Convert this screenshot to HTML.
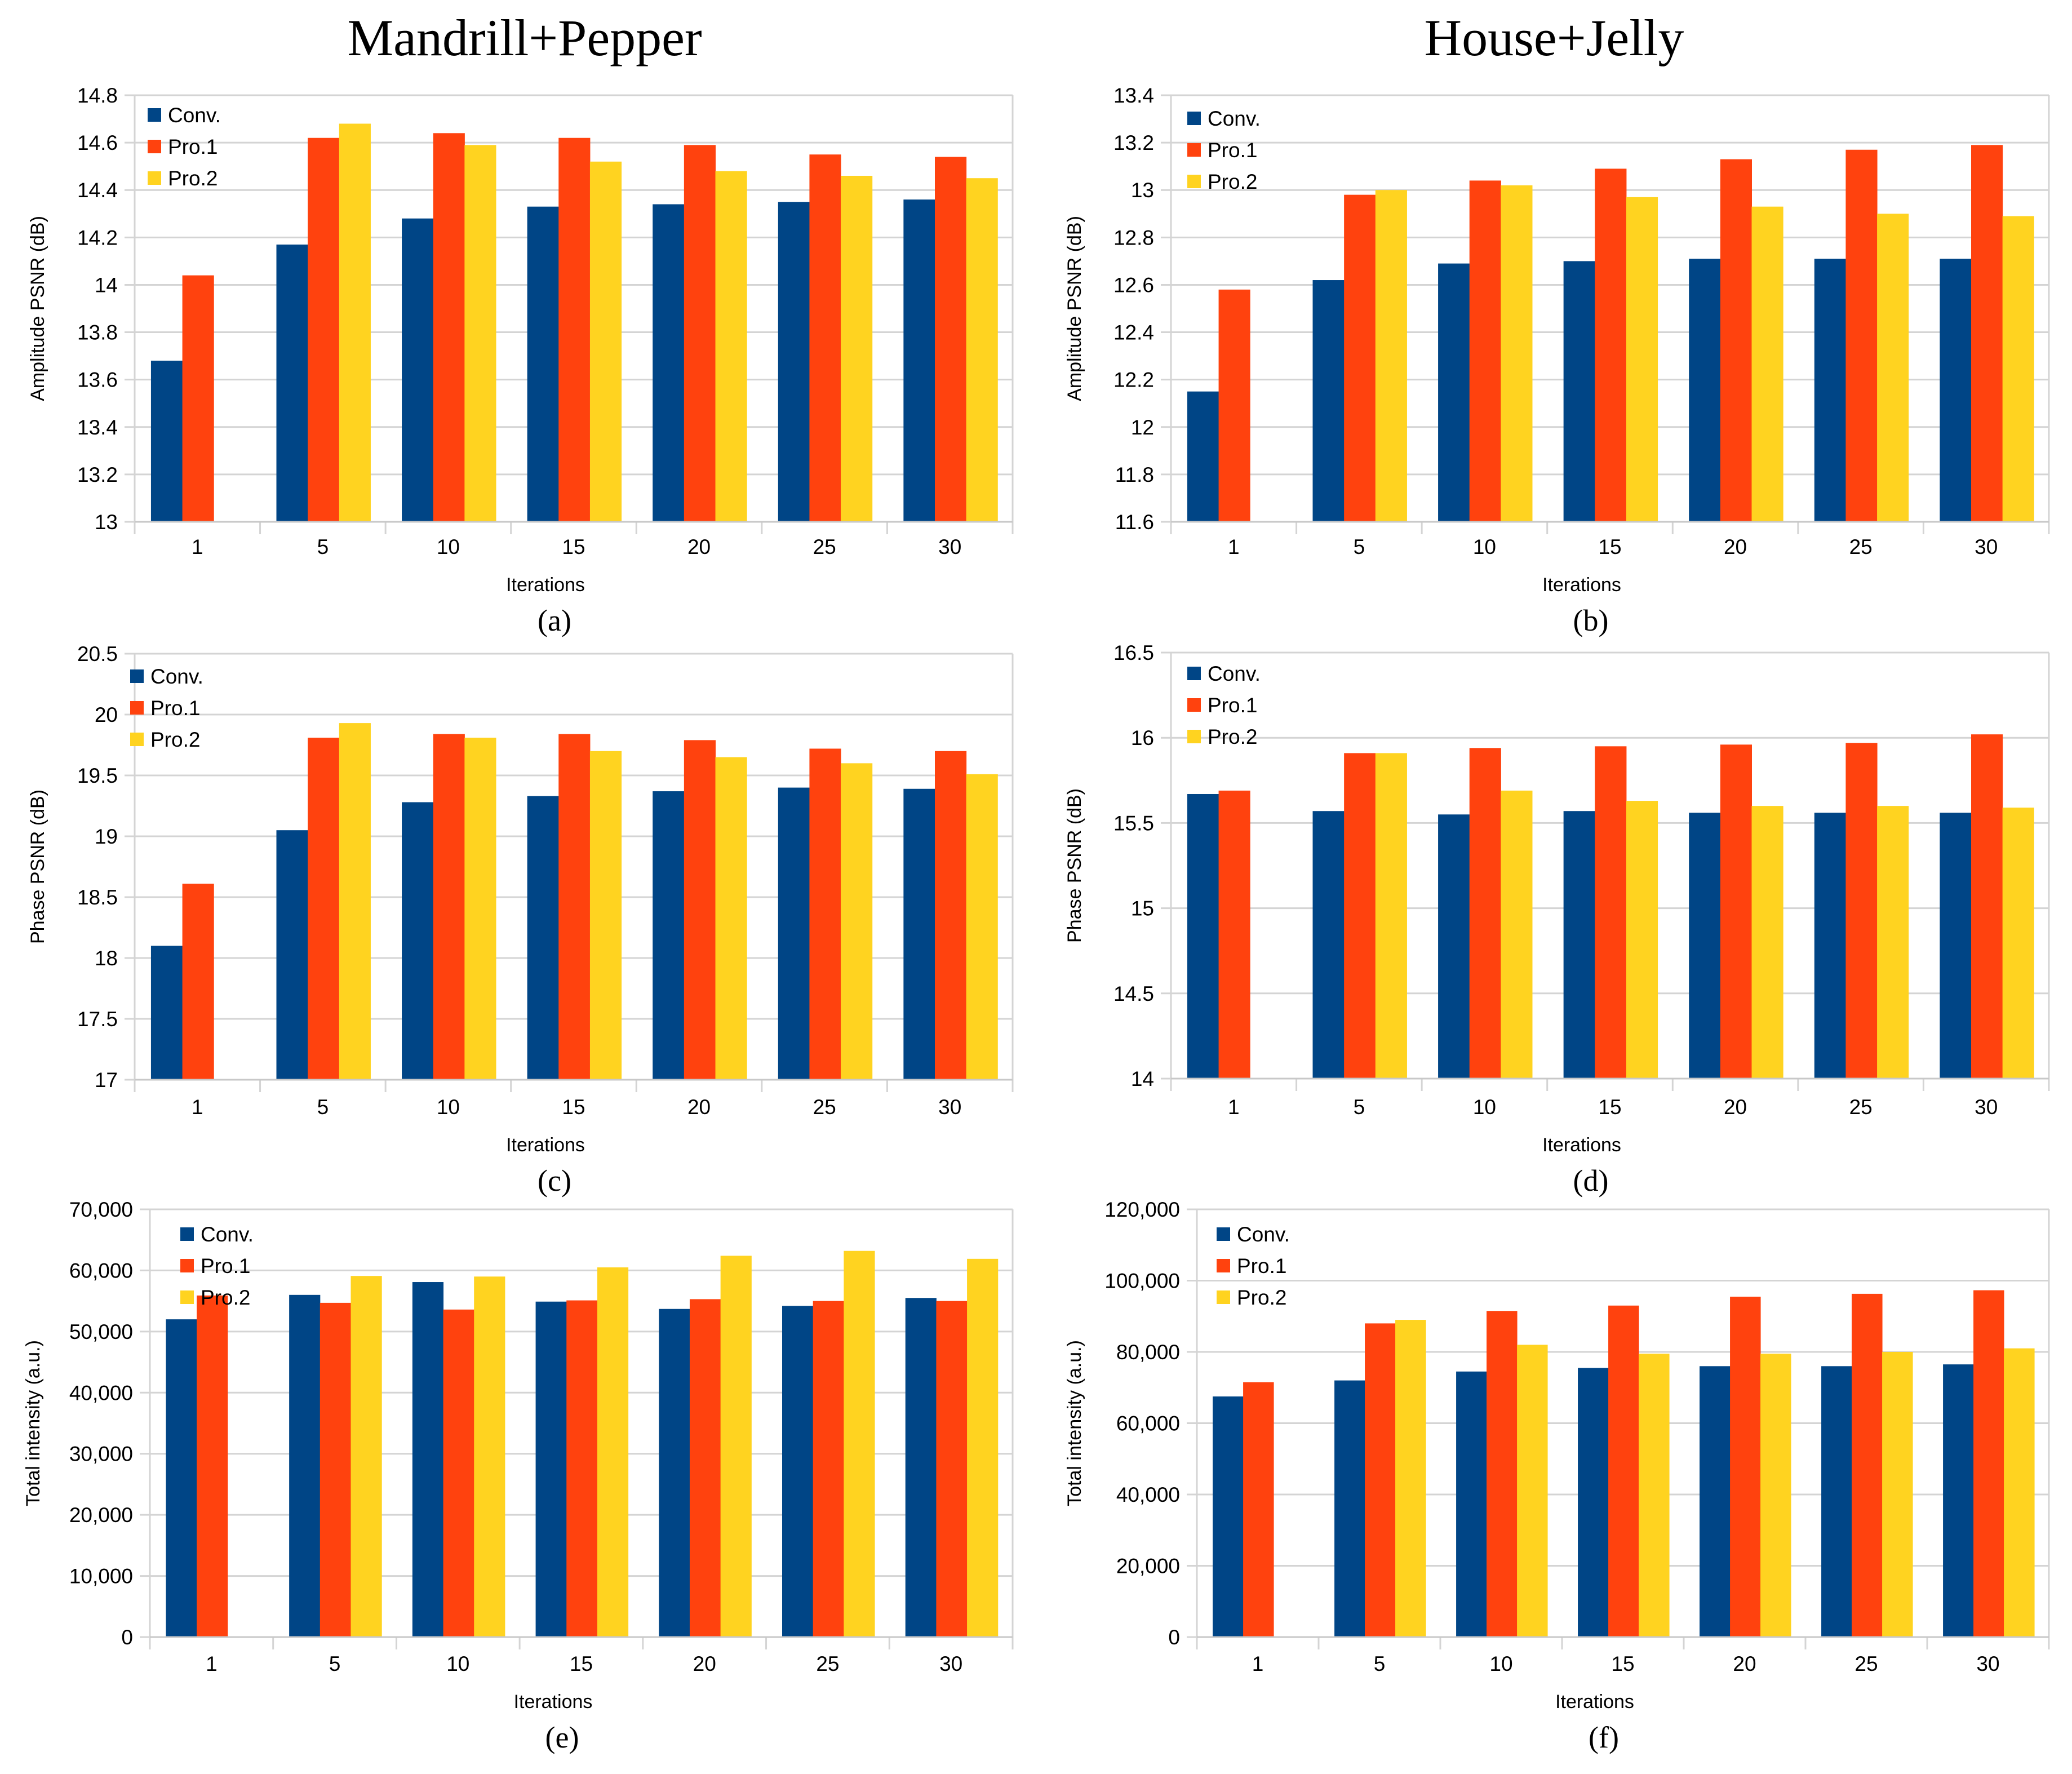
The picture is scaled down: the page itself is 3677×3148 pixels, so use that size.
<!DOCTYPE html>
<html><head><meta charset="utf-8"><style>
html,body{margin:0;padding:0;background:#fff;}
svg{display:block;}
text{font-family:"Liberation Sans",sans-serif;fill:#000;}
.serif{font-family:"Liberation Serif",serif;}
</style></head><body>
<svg id="fig" width="3677" height="3148" viewBox="0 0 3677 3148" xmlns="http://www.w3.org/2000/svg">
<text class="serif" x="931" y="98" font-size="92" text-anchor="middle">Mandrill+Pepper</text>
<text class="serif" x="2758" y="98" font-size="92" text-anchor="middle">House+Jelly</text>
</svg>
<script>
const categories = ["1","5","10","15","20","25","30"];
const seriesNames = ["Conv.","Pro.1","Pro.2"];
const colors = ["#004586","#ff420e","#ffd320"];

const aConv = [13.68,14.17,14.28,14.33,14.34,14.35,14.36];
const aPro1 = [14.04,14.62,14.64,14.62,14.59,14.55,14.54];
const aPro2 = [null,14.68,14.59,14.52,14.48,14.46,14.45];
const aTicks = ["13","13.2","13.4","13.6","13.8","14","14.2","14.4","14.6","14.8"];

const bConv = [12.15,12.62,12.69,12.70,12.71,12.71,12.71];
const bPro1 = [12.58,12.98,13.04,13.09,13.13,13.17,13.19];
const bPro2 = [null,13.00,13.02,12.97,12.93,12.90,12.89];
const bTicks = ["11.6","11.8","12","12.2","12.4","12.6","12.8","13","13.2","13.4"];

const cConv = [18.10,19.05,19.28,19.33,19.37,19.40,19.39];
const cPro1 = [18.61,19.81,19.84,19.84,19.79,19.72,19.70];
const cPro2 = [null,19.93,19.81,19.70,19.65,19.60,19.51];
const cTicks = ["17","17.5","18","18.5","19","19.5","20","20.5"];

const dConv = [15.67,15.57,15.55,15.57,15.56,15.56,15.56];
const dPro1 = [15.69,15.91,15.94,15.95,15.96,15.97,16.02];
const dPro2 = [null,15.91,15.69,15.63,15.60,15.60,15.59];
const dTicks = ["14","14.5","15","15.5","16","16.5"];

const eConv = [52000,56000,58100,54900,53700,54200,55500];
const ePro1 = [55900,54700,53600,55100,55300,55000,55000];
const ePro2 = [null,59100,59000,60500,62400,63200,61900];
const eTicks = ["0","10,000","20,000","30,000","40,000","50,000","60,000","70,000"];

const fConv = [67500,72000,74500,75500,76000,76000,76500];
const fPro1 = [71500,88000,91500,93000,95500,96300,97300];
const fPro2 = [null,89000,82000,79500,79500,80000,81000];
const fTicks = ["0","20,000","40,000","60,000","80,000","100,000","120,000"];

const NS = "http://www.w3.org/2000/svg";
const svg = document.getElementById('fig');
function mk(tag, attrs, parent){
  const el = document.createElementNS(NS, tag);
  for (const k in attrs) el.setAttribute(k, attrs[k]);
  (parent||svg).appendChild(el);
  return el;
}

function chart(id, L, R, T, B, ticks, series, ytitle, letter, rowY, legX, legY, ytX){
  const g = mk('g', {});
  
  
  const vmin = parseFloat(ticks[0].replace(/,/g,''));
  const vmax = parseFloat(ticks[ticks.length-1].replace(/,/g,''));
  const y = v => B - (v - vmin) / (vmax - vmin) * (B - T);
  const cw = (R - L) / categories.length;
  const x = i => L + i * cw;
  ticks.forEach(t => {
    const v = parseFloat(t.replace(/,/g,''));
    const gl = mk('line', {x1:L-18, x2:R, y1:y(v), y2:y(v), stroke:'#d4d4d4', 'stroke-width':3}, g);
    
    
    const tl = mk('text', {x:L-30, y:y(v)+13, 'font-size':37, 'text-anchor':'end'}, g);
    
    
    tl.textContent = t;
  });
  mk('line', {x1:L, x2:L, y1:T, y2:B+22, stroke:'#d4d4d4', 'stroke-width':3}, g);
  mk('line', {x1:R, x2:R, y1:T, y2:B+22, stroke:'#d4d4d4', 'stroke-width':3}, g);
  for (let i=1;i<categories.length;i++){
    mk('line', {x1:x(i), x2:x(i), y1:B, y2:B+22, stroke:'#d4d4d4', 'stroke-width':3}, g);
  }
  const bw = cw * 0.25, off = cw * 0.13;
  series.forEach((s, si) => {
    s.forEach((v, i) => {
      if (v === null) return;
      const r = mk('rect', {x:x(i)+off+si*bw, y:y(v), width:bw+0.5, height:B-y(v), fill:colors[si]}, g);
      
      
    });
  });
  mk('line', {x1:L, x2:R, y1:B, y2:B, stroke:'#c8c8c8', 'stroke-width':3}, g);
  categories.forEach((c, i) => {
    const t = mk('text', {x:x(i)+cw/2, y:rowY, 'font-size':37, 'text-anchor':'middle'}, g);
    
    
    t.textContent = c;
  });
  const cx = (L+R)/2 - 50;
  const xt = mk('text', {x:cx, y:rowY+66, 'font-size':34, 'text-anchor':'middle'}, g);
  
  
  xt.textContent = 'Iterations';
  const yt = mk('text', {x:0, y:0, 'font-size':34, 'text-anchor':'middle', transform:'translate(' + ytX + ',' + ((T+B)/2) + ') rotate(-90)'}, g);
  
  
  yt.textContent = ytitle;
  const lt = mk('text', {x:cx+16, y:rowY+136, 'font-size':54, 'text-anchor':'middle', class:'serif'}, g);
  
  
  lt.textContent = '(' + letter + ')';
  seriesNames.forEach((n, si) => {
    const sq = mk('rect', {x:legX, y:legY+si*56-12, width:24, height:24, fill:colors[si]}, g);
    
    
    const lt2 = mk('text', {x:legX+36, y:legY+si*56+13, 'font-size':37}, g);
    
    
    lt2.textContent = n;
  });
}

chart('a', 239, 1797, 169, 926, aTicks, [aConv,aPro1,aPro2], 'Amplitude PSNR (dB)', 'a', 983, 262, 204, 78);
chart('b', 2078, 3636, 169, 926, bTicks, [bConv,bPro1,bPro2], 'Amplitude PSNR (dB)', 'b', 983, 2107, 210, 1918);
chart('c', 239, 1797, 1160, 1916, cTicks, [cConv,cPro1,cPro2], 'Phase PSNR (dB)', 'c', 1977, 231, 1200, 78);
chart('d', 2078, 3636, 1158, 1914, dTicks, [dConv,dPro1,dPro2], 'Phase PSNR (dB)', 'd', 1977, 2107, 1195, 1918);
chart('e', 266, 1797, 2146, 2905, eTicks, [eConv,ePro1,ePro2], 'Total intensity (a.u.)', 'e', 2965, 320, 2190, 70);
chart('f', 2124, 3636, 2146, 2905, fTicks, [fConv,fPro1,fPro2], 'Total intensity (a.u.)', 'f', 2965, 2159, 2190, 1918);
</script>
</body></html>
